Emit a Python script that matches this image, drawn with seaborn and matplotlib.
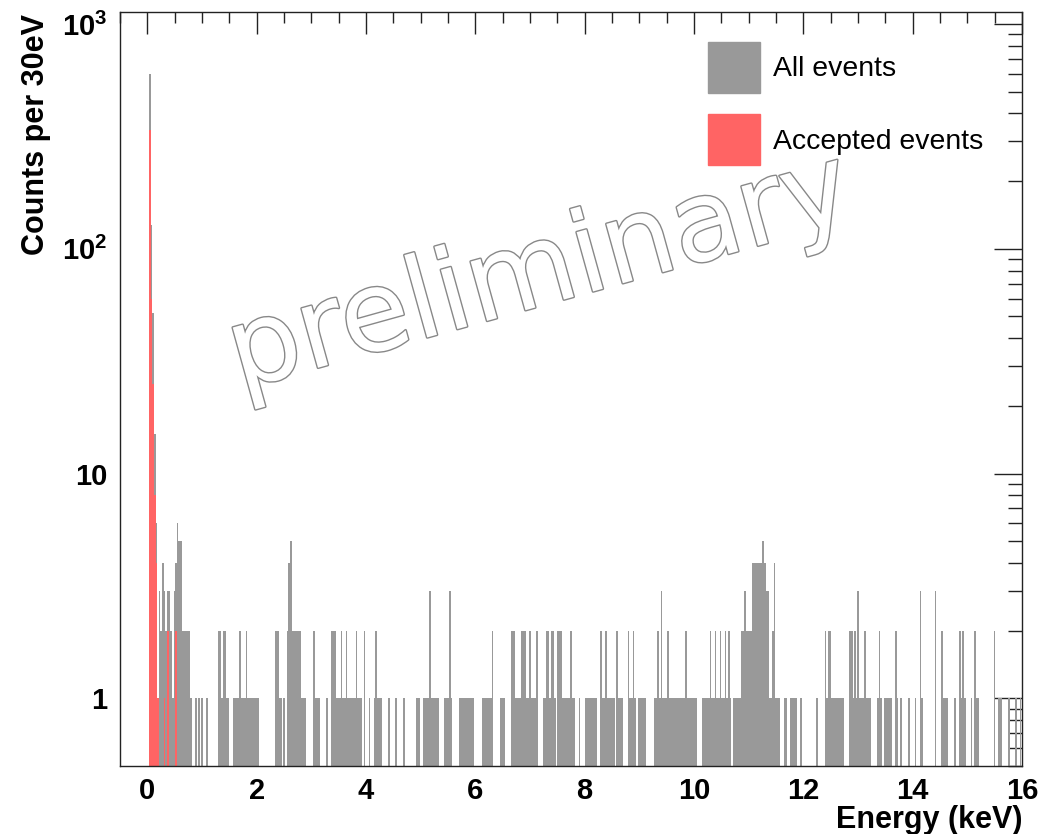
import numpy as np
import pandas as pd
import matplotlib
matplotlib.use("Agg")
import matplotlib.pyplot as plt
import matplotlib.patheffects as pe
from matplotlib.patches import Patch
from matplotlib.ticker import LogLocator, NullFormatter, FixedLocator, MultipleLocator
import seaborn as sns

# ---------------- data (counts per 30 eV bin, bin k = [k*0.03, (k+1)*0.03) keV) ----------------
bin_width_kev = 0.03
all_counts_head = [0, 600, 127, 52, 15]          # bins 0-4
all_counts_tail = (                               # bins 5 ... 533, one digit per bin
    "61324"
    "3233213465" "5222221001" "0101001000" "0002212211" "0011112111"
    "2111111100" "0000000022" "1101024522" "2222111000" "0211100001"
    "0022211121" "1211111211" "1020010012" "1110000100" "0100001000"
    "0000110011" "1131111100" "0111310000" "1111111110" "0000111111"
    "2000011100" "0022111122" "2112111200" "0112212210" "2221111121"
    "1001000111" "1111002112" "1111102111" "0002112101" "1111000001"
    "1213111211" "1111111121" "1111100011" "1112112112" "1121210111"
    "1122322224" "4444454331" "1241110011" "0011110010" "0000000010"
    "0002122111" "1111100022" "1213111211" "1000012101" "1111002101"
    "0000100010" "0310000000" "3000211100" "0010021210" "0010211000"
    "0000002001" "1000010001" "0010"
)
accepted_counts_head = [0, 336, 60, 25, 8, 4, 1, 0, 0, 0, 1, 0, 2, 0, 0, 0, 0, 2]

series_labels = ["All events", "Accepted events"]
x_ticks = [0, 2, 4, 6, 8, 10, 12, 14, 16]
y_ticks = [1, 10, 100, 1000]
y_tick_labels = ["1", "10", r"$\mathbf{10^{2}}$", r"$\mathbf{10^{3}}$"]
x_title = "Energy (keV)"
y_title = "Counts per 30eV"
watermark = "preliminary"

# ---------------- build table ----------------
all_counts = np.array(all_counts_head + [int(c) for c in all_counts_tail], dtype=float)
n_bins = len(all_counts)
accepted_counts = np.zeros(n_bins)
accepted_counts[:len(accepted_counts_head)] = accepted_counts_head
centers = (np.arange(n_bins) + 0.5) * bin_width_kev
df = pd.DataFrame({"energy": centers, "n_all": all_counts, "n_acc": accepted_counts})
bin_range = (0.0, n_bins * bin_width_kev)

# ---------------- style ----------------
sns.set_style("white")
plt.rcParams["font.family"] = ["Liberation Sans", "DejaVu Sans"]
plt.rcParams["mathtext.fontset"] = "custom"
plt.rcParams["mathtext.bf"] = "Liberation Sans:bold"
plt.rcParams["mathtext.rm"] = "Liberation Sans"
for key in ["text.color", "axes.labelcolor", "xtick.color", "ytick.color"]:
    plt.rcParams[key] = "black"

gray = "#999999"
red = "#ff6464"

W, H = 1055, 834
fig = plt.figure(figsize=(W / 100, H / 100), dpi=100)
ax = fig.add_axes([120 / W, 1 - 766 / H, (1022 - 120) / W, (766 - 12) / H])

sns.histplot(data=df, x="energy", weights="n_all", binwidth=bin_width_kev,
             binrange=bin_range, ax=ax, color=gray, alpha=1, linewidth=0,
             edgecolor="none", fill=True)
sns.histplot(data=df, x="energy", weights="n_acc", binwidth=bin_width_kev,
             binrange=bin_range, ax=ax, color=red, alpha=1, linewidth=0,
             edgecolor="none", fill=True)

ax.set_yscale("log")
ax.set_xlim(-0.5, 16)
ax.set_ylim(0.5, 1130)
ax.set_xlabel("")
ax.set_ylabel("")

ax.xaxis.set_major_locator(FixedLocator(x_ticks))
ax.xaxis.set_minor_locator(MultipleLocator(0.5))
ax.set_xticklabels([str(t) for t in x_ticks], fontsize=21, fontweight="bold")
ax.yaxis.set_major_locator(FixedLocator(y_ticks))
ax.set_yticklabels(y_tick_labels, fontsize=21, fontweight="bold")
ax.yaxis.set_minor_locator(LogLocator(base=10, subs=np.arange(2, 10)))
ax.yaxis.set_minor_formatter(NullFormatter())

ax.tick_params(axis="both", which="both", direction="in", top=True, right=True,
               colors="#222222", labelcolor="black", width=1)
ax.tick_params(axis="x", which="major", length=16, pad=8)
ax.tick_params(axis="x", which="minor", length=8)
ax.tick_params(axis="y", which="major", length=20, pad=9)
ax.tick_params(axis="y", which="minor", length=10)
for s in ax.spines.values():
    s.set_visible(True)
    s.set_color("#222222")
    s.set_linewidth(1)

fig.text(1022 / W, 1 - 820 / H, x_title, ha="right", va="center",
         fontsize=22, fontweight="bold", color="black")
fig.text(36 / W, 1 - 14 / H, y_title, ha="center", va="top", rotation=90,
         fontsize=22, fontweight="bold", color="black")

handles = [Patch(facecolor=gray, edgecolor=gray), Patch(facecolor=red, edgecolor=red)]
leg = fig.legend(handles, series_labels, loc="upper left",
                 bbox_to_anchor=(708 / W, 1 - 42 / H), frameon=False, fontsize=20.4,
                 handlelength=1.83, handleheight=2.39, labelspacing=0.76,
                 handletextpad=0.45, borderpad=0, borderaxespad=0)
for t in leg.get_texts():
    t.set_color("black")

fig.text(540 / W, 1 - 274 / H, watermark, ha="center", va="center",
         rotation=15.5, rotation_mode="anchor", fontsize=81, color="white",
         family=["DejaVu Sans"], fontweight="normal",
         path_effects=[pe.Stroke(linewidth=2.0, foreground="#888888"), pe.Normal()])

fig.savefig("out.png", dpi=100, facecolor="white")
